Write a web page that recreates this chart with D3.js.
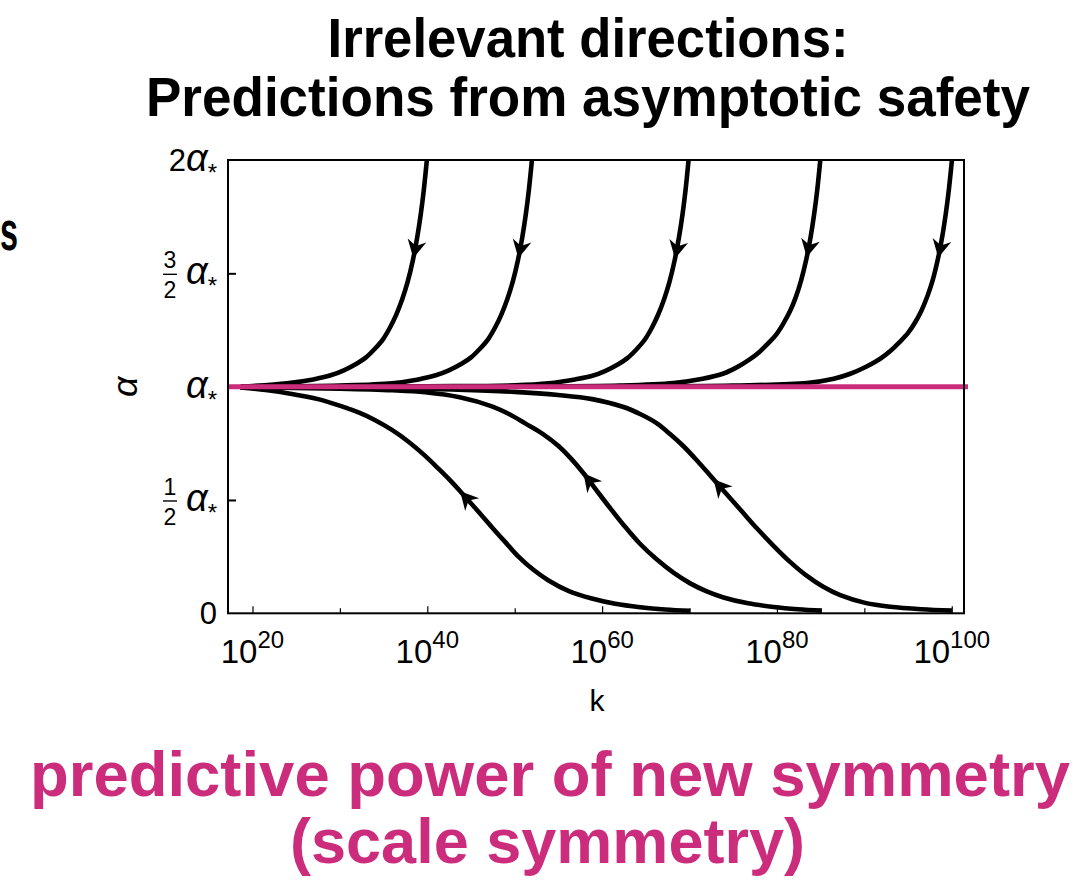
<!DOCTYPE html>
<html><head><meta charset="utf-8">
<script src="https://cdn.jsdelivr.net/npm/d3@7"></script>
<style>
body{margin:0;background:#fff;}
svg{display:block;}
text{font-family:"Liberation Sans",Arial,Helvetica,sans-serif;}
</style>
</head><body>
<svg id="chart" width="1086" height="886"></svg>
<script>
// ---------- data ----------
const titleLines = ["Irrelevant directions:", "Predictions from asymptotic safety"];
const footerLines = ["predictive power of new symmetry", "(scale symmetry)"];
const sideText = "s";
const xLabel = "k";
const yLabel = "α";
const xTickExponents = [20, 40, 60, 80, 100];
const xMinorExponents = [30, 50, 70, 90];
const yTickValues = [0, 0.5, 1, 1.5, 2];
const yTickLabels = ["0", "1/2 α*", "α*", "3/2 α*", "2 α*"];
const fixedPoint = 1; // alpha = alpha_*

// curves: [log10 k, alpha/alpha_*]
const upperFlow1 = [[18.7,1.0],[23.95,1.015],[26.95,1.032],[28.95,1.05],[30.45,1.072],[31.95,1.102],[32.95,1.128],[33.95,1.165],[34.95,1.21],[35.75,1.262],[36.45,1.318],[37.15,1.388],[37.75,1.462],[38.35,1.558],[38.85,1.66],[39.25,1.76],[39.6,1.868],[39.95,2.0]];
const upperFlow2 = [[18.7,1.0],[30,1.005],[35.97,1.015],[38.97,1.032],[40.97,1.05],[42.47,1.072],[43.97,1.102],[44.97,1.128],[45.97,1.165],[46.97,1.21],[47.77,1.262],[48.47,1.318],[49.17,1.388],[49.77,1.462],[50.37,1.558],[50.87,1.66],[51.27,1.76],[51.62,1.868],[51.97,2.0]];
const upperFlow3 = [[18.7,1.0],[40,1.002],[50,1.006],[53.89,1.015],[56.89,1.032],[58.89,1.048],[60.39,1.07],[61.89,1.1],[62.89,1.126],[63.89,1.163],[64.89,1.208],[65.69,1.26],[66.39,1.316],[67.09,1.386],[67.69,1.46],[68.29,1.556],[68.79,1.658],[69.19,1.758],[69.54,1.866],[69.89,2.0]];
const upperFlow4 = [[18.7,1.0],[50,1.001],[62,1.005],[68.17,1.016],[71.5,1.035],[73.89,1.058],[75.4,1.085],[76.8,1.118],[77.96,1.152],[78.96,1.19],[79.96,1.232],[80.76,1.28],[81.46,1.33],[82.16,1.395],[82.76,1.468],[83.36,1.562],[83.86,1.662],[84.26,1.762],[84.61,1.868],[84.96,2.0]];
const upperFlow5 = [[18.7,1.0],[60,1.001],[75,1.005],[83.43,1.016],[86.5,1.035],[88.39,1.057],[90.2,1.088],[91.82,1.123],[93.0,1.158],[94.0,1.195],[95.0,1.237],[95.8,1.283],[96.5,1.333],[97.2,1.398],[97.82,1.47],[98.42,1.564],[98.92,1.664],[99.32,1.764],[99.67,1.87],[100.02,2.0]];
const lowerFlow1 = [[18.6,0.996],[21.5,0.985],[24.5,0.968],[27.5,0.945],[30.23,0.913],[32.2,0.885],[34.04,0.852],[36,0.808],[37.85,0.757],[39.6,0.7],[41.28,0.638],[42.7,0.583],[43.96,0.53],[45.7,0.455],[47.39,0.38],[48.9,0.315],[50.43,0.25],[52.1,0.193],[53.87,0.145],[56.2,0.098],[58.83,0.065],[61.5,0.042],[64.36,0.027],[67.2,0.017],[70.08,0.011]];
const lowerFlow2 = [[18.6,0.998],[30,0.991],[36,0.984],[39.76,0.975],[43.7,0.953],[47.39,0.913],[49.4,0.878],[51.2,0.838],[53.2,0.792],[55.01,0.738],[56.5,0.68],[57.87,0.618],[59.21,0.55],[60.8,0.47],[62.45,0.39],[64.3,0.308],[66.27,0.237],[68.2,0.178],[70.08,0.132],[71.9,0.098],[73.89,0.07],[76.7,0.044],[79.61,0.028],[82.4,0.018],[85.15,0.012]];
const lowerFlow3 = [[18.6,0.999],[35,0.994],[43.53,0.987],[50,0.977],[54.97,0.963],[58.86,0.945],[62.45,0.91],[64.4,0.878],[66.27,0.838],[67.8,0.79],[69.31,0.737],[70.9,0.672],[72.37,0.608],[74.1,0.532],[75.8,0.458],[77.7,0.375],[79.61,0.298],[81.5,0.227],[83.43,0.165],[85.3,0.117],[87.24,0.08],[90.1,0.046],[92.96,0.029],[96.5,0.018],[100.02,0.012]];
const upperFlows = [upperFlow1, upperFlow2, upperFlow3, upperFlow4, upperFlow5];
const lowerFlows = [lowerFlow1, lowerFlow2, lowerFlow3];
const upperArrowAt = [38.4, 50.42, 68.34, 83.41, 98.45];
const lowerArrowAt = [43.76, 57.87, 72.75];

// ---------- layout ----------
const L = 228, R = 964, T = 160, B = 613.3;
const pink = "#cc2c7c";
const svg = d3.select("#chart");

const x = d3.scaleLog().domain([Math.pow(10,17.2), Math.pow(10,101.4)]).range([L, R]);
const y = d3.scaleLinear().domain([0, 2]).range([B, T]);

svg.append("defs").append("clipPath").attr("id","plotclip")
  .append("rect").attr("x",L).attr("y",T).attr("width",R-L+6).attr("height",B-T);

// ticks
svg.append("g").attr("transform",`translate(0,${B})`)
  .call(d3.axisBottom(x).tickValues(xTickExponents.map(e=>Math.pow(10,e))).tickSize(-7).tickFormat(""))
  .call(g=>{g.select(".domain").remove(); g.selectAll("line").attr("stroke","#000").attr("stroke-width",1.2);});
svg.append("g").attr("transform",`translate(0,${B})`)
  .call(d3.axisBottom(x).tickValues(xMinorExponents.map(e=>Math.pow(10,e))).tickSize(-5).tickFormat(""))
  .call(g=>{g.select(".domain").remove(); g.selectAll("line").attr("stroke","#000").attr("stroke-width",1.2);});
svg.append("g").attr("transform",`translate(${L},0)`)
  .call(d3.axisLeft(y).tickValues(yTickValues.slice(1,4)).tickSize(-8).tickFormat(""))
  .call(g=>{g.select(".domain").remove(); g.selectAll("line").attr("stroke","#000").attr("stroke-width",2);});

// curves
const line = d3.line().x(d=>x(Math.pow(10,d[0]))).y(d=>y(d[1])).curve(d3.curveCatmullRom.alpha(0.5));
const curveG = svg.append("g").attr("clip-path","url(#plotclip)");
function drawFlow(data, arrowL){
  const p = curveG.append("path").datum(data).attr("d", line)
    .attr("fill","none").attr("stroke","#000").attr("stroke-width",4.6);
  const node = p.node();
  const total = node.getTotalLength();
  const tx = x(Math.pow(10, arrowL));
  let lo = 0, hi = total;
  for (let i=0;i<50;i++){ const mid=(lo+hi)/2; if (node.getPointAtLength(mid).x < tx) lo = mid; else hi = mid; }
  const s = (lo+hi)/2;
  const pt = node.getPointAtLength(s);
  const a = node.getPointAtLength(Math.max(0, s-4));
  const b = node.getPointAtLength(Math.min(total, s+4));
  const ang = Math.atan2(a.y-b.y, a.x-b.x)*180/Math.PI;
  svg.append("path").attr("d","M0,0 L-18,-9.5 L-12.5,0 L-18,9.5 Z")
    .attr("fill","#000")
    .attr("transform",`translate(${pt.x},${pt.y}) rotate(${ang})`);
}
upperFlows.forEach((d,i)=>drawFlow(d, upperArrowAt[i]));
lowerFlows.forEach((d,i)=>drawFlow(d, lowerArrowAt[i]));

// fixed point line
svg.append("line").attr("x1",L).attr("x2",R+4).attr("y1",y(fixedPoint)).attr("y2",y(fixedPoint))
  .attr("stroke",pink).attr("stroke-width",5);

// frame
svg.append("rect").attr("x",L).attr("y",T).attr("width",R-L).attr("height",B-T)
  .attr("fill","none").attr("stroke","#000").attr("stroke-width",2);

// x tick labels
xTickExponents.forEach(e=>{
  const t = svg.append("text").attr("x", x(Math.pow(10,e))).attr("y", 663)
    .attr("text-anchor","middle").attr("fill","#000");
  t.append("tspan").attr("font-size",33).text("10");
  t.append("tspan").attr("font-size",24).attr("dy",-15).text(String(e));
});

// y tick labels
yTickValues.forEach((v,i)=>{
  const lab = yTickLabels[i];
  const yc = y(v);
  if (lab === "0") {
    svg.append("text").attr("x",217).attr("y",yc+11).attr("text-anchor","end")
      .attr("font-size",31).text("0");
    return;
  }
  const parts = lab.split(" ");
  let coef = parts.length > 1 ? parts[0] : "";
  const t = svg.append("text").attr("x",217).attr("y",yc+11).attr("text-anchor","end").attr("font-size",31);
  if (coef && !coef.includes("/")) t.append("tspan").text(coef);
  t.append("tspan").attr("font-style","italic").attr("font-size",38).text("α");
  t.append("tspan").attr("font-size",24).attr("dy",10).text("*");
  if (coef.includes("/")) {
    const [n, d] = coef.split("/");
    svg.append("text").attr("x",170).attr("y",yc-5).attr("text-anchor","middle").attr("font-size",23).text(n);
    svg.append("text").attr("x",170).attr("y",yc+25).attr("text-anchor","middle").attr("font-size",23).text(d);
    svg.append("line").attr("x1",163).attr("x2",177).attr("y1",yc+1).attr("y2",yc+1)
      .attr("stroke","#000").attr("stroke-width",1.4);
  }
});

// axis labels
svg.append("text").attr("x",597).attr("y",711).attr("text-anchor","middle").attr("font-size",30).text(xLabel);
svg.append("text").attr("transform",`translate(137,${y(fixedPoint)}) rotate(-90)`)
  .attr("text-anchor","middle").attr("font-size",36).attr("font-style","italic").text(yLabel);

// title
const titleY = [57, 116], titleW = [521, 884];
titleLines.forEach((s,i)=>{
  svg.append("text").attr("x",588).attr("y",titleY[i]).attr("text-anchor","middle")
    .attr("font-size",56).attr("font-weight","bold").attr("fill","#000")
    .attr("textLength",titleW[i]).attr("lengthAdjust","spacingAndGlyphs").text(s);
});
// side fragment
svg.append("text").attr("x",0).attr("y",250).attr("text-anchor","start")
  .attr("font-size",56).attr("font-weight","bold")
  .attr("textLength",18).attr("lengthAdjust","spacingAndGlyphs").text(sideText);

// footer
const footY = [796, 863], footX = [550, 547.5], footW = [1040, 515];
footerLines.forEach((s,i)=>{
  svg.append("text").attr("x",footX[i]).attr("y",footY[i]).attr("text-anchor","middle")
    .attr("font-size",63).attr("font-weight","bold").attr("fill",pink)
    .attr("textLength",footW[i]).attr("lengthAdjust","spacingAndGlyphs").text(s);
});
</script>
</body></html>
